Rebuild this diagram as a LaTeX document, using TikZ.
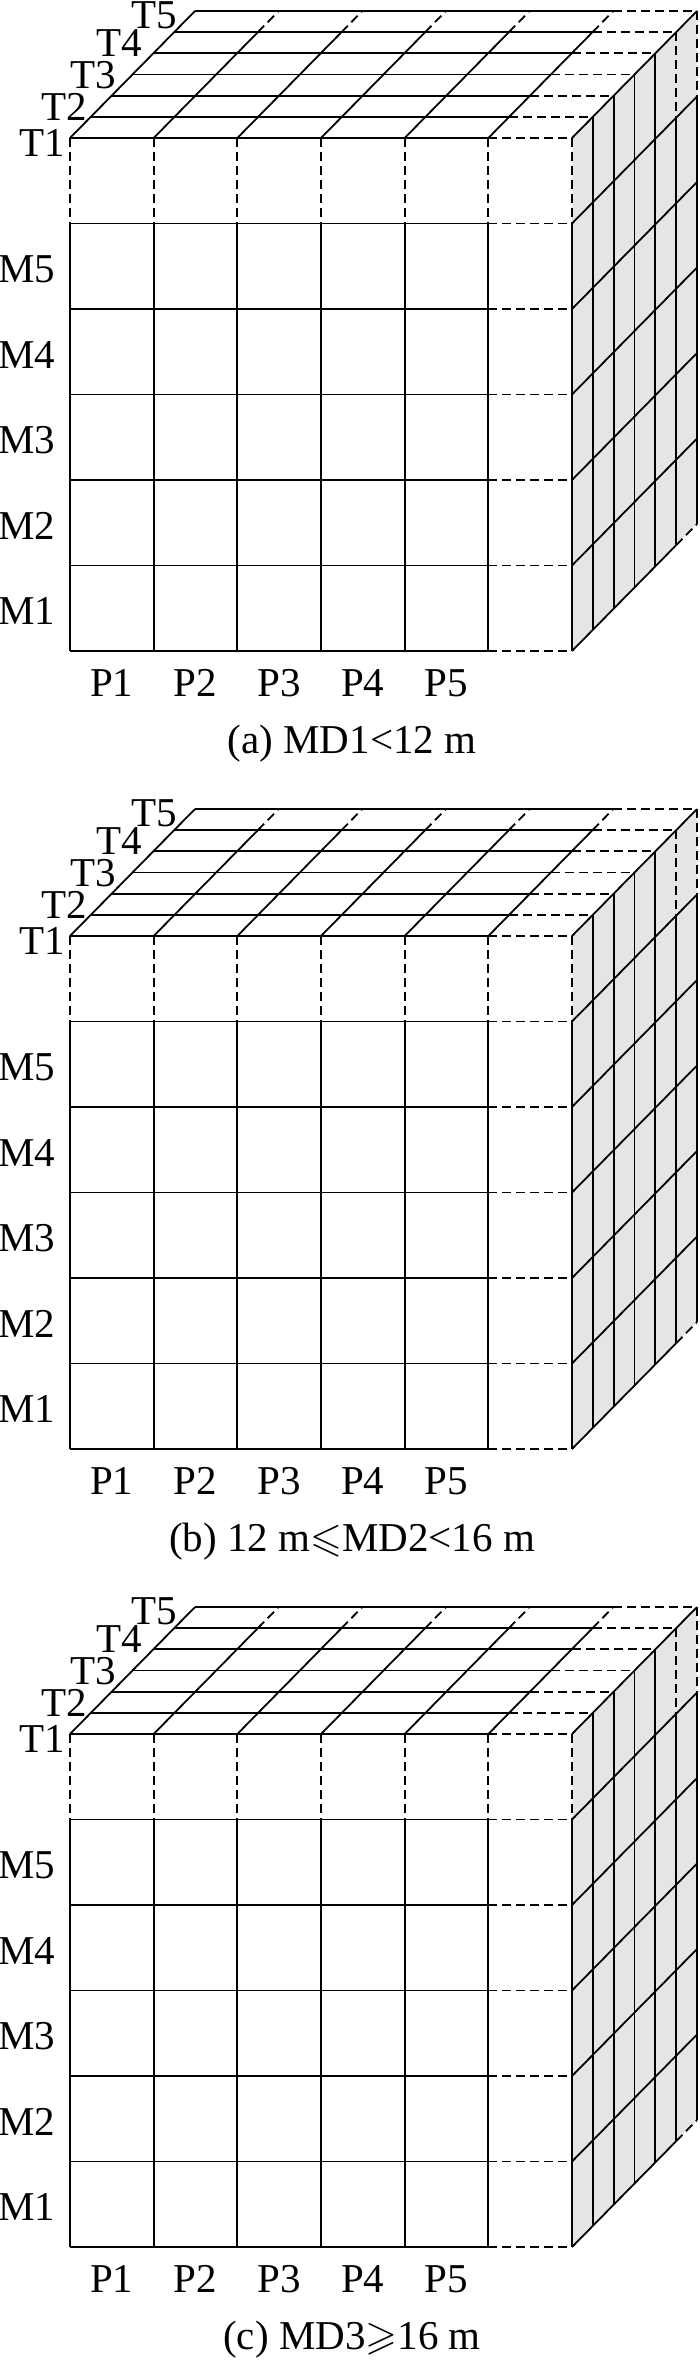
\documentclass[tikz,border=0pt]{standalone}
\usepackage{amssymb}
\usepackage{fontspec}
\setmainfont{Liberation Serif}
\begin{document}
\begin{tikzpicture}[x=1pt,y=-1pt,line width=1.8pt,
  hid/.style={dash pattern=on 9pt off 5pt},
  lbl/.style={inner sep=0pt,font=\fontsize{41}{48}\selectfont},
  rface/.style={fill=gray!20,draw=none}]
\useasboundingbox (0,0) rectangle (700,2370);
\foreach \p/\ctext in {0/{(a) MD1<12 m},1/{(b) 12 m$\leqslant$MD2<16 m},2/{(c) MD3$\geqslant$16 m}}{
\begin{scope}[shift={(0,798*\p)}]
  % right face fill
  \fill[rface] (572,138) -- (697,11) -- (697,524) -- (572,651) -- cycle;
  % top face: depth lines
  \foreach \j in {0,...,6}{
    \draw ({70+20.833*\j},{138-21.167*\j}) -- ({488.33+20.833*\j},{138-21.167*\j});
    \draw[hid] ({488.33+20.833*\j},{138-21.167*\j}) -- ({572+20.833*\j},{138-21.167*\j});
  }
  % top face: column diagonals
  \foreach \i in {0,6}{
    \draw ({70+83.667*\i},138) -- ({195+83.667*\i},11);
  }
  \foreach \i in {1,...,5}{
    \draw ({70+83.667*\i},138) -- ({174.17+83.667*\i},32.17);
    \draw[hid] ({174.17+83.667*\i},32.17) -- ({195+83.667*\i},11);
  }
  % front face verticals
  \foreach \i in {0,...,6}{
    \draw[hid] ({70+83.667*\i},138) -- ({70+83.667*\i},223.5);
    \draw ({70+83.667*\i},223.5) -- ({70+83.667*\i},651);
  }
  % front face horizontals
  \foreach \r in {1,...,6}{
    \draw (70,{138+85.5*\r}) -- (488.33,{138+85.5*\r});
    \draw[hid] (488.33,{138+85.5*\r}) -- (572,{138+85.5*\r});
  }
  % right face verticals
  \foreach \k in {1,...,4}{
    \draw ({572+20.833*\k},{138-21.167*\k}) -- ({572+20.833*\k},{651-21.167*\k});
  }
  \foreach \k in {5,6}{
    \draw[hid] ({572+20.833*\k},{138-21.167*\k}) -- ({572+20.833*\k},{223.5-21.167*\k});
    \draw ({572+20.833*\k},{223.5-21.167*\k}) -- ({572+20.833*\k},{651-21.167*\k});
  }
  % right face diagonals
  \foreach \r in {1,...,5}{
    \draw (572,{138+85.5*\r}) -- (697,{11+85.5*\r});
  }
  \draw (572,651) -- (676.17,545.17);
  \draw[hid] (676.17,545.17) -- (697,524);
  % labels
  \foreach \t/\x/\y in {1/42/143,2/64/107,3/93/75,4/119/43,5/154/15}{
    \node[lbl] (T\t-\p) at (\x,\y) {T\t};
  }
  \foreach \m in {1,...,5}{
    \node[lbl,anchor=east] (M\m-\p) at (56,{651-85.5*(\m-0.5)+3}) {M\m};
  }
  \foreach \i in {1,...,5}{
    \node[lbl] (P\i-\p) at ({70+83.667*(\i-0.5)},683) {P\i};
  }
  \node[lbl] (cap-\p) at (352,744) {\ctext};
\end{scope}
}
\end{tikzpicture}
\end{document}
